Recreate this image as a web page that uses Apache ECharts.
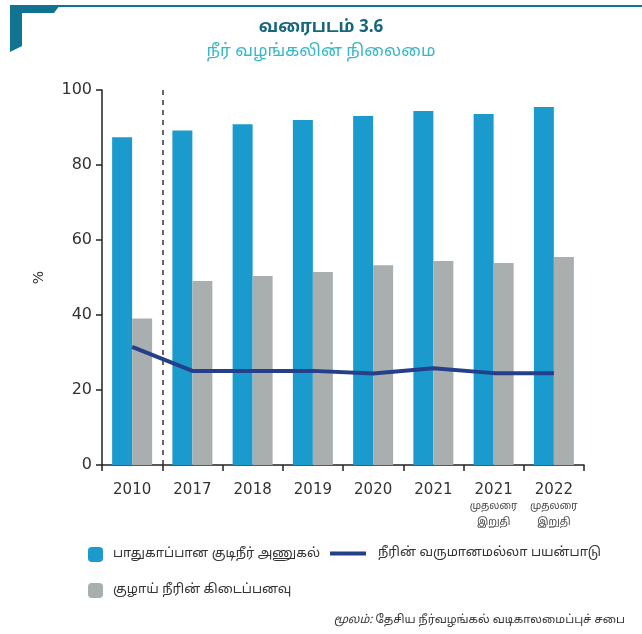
<!DOCTYPE html>
<html>
<head>
<meta charset="utf-8">
<script src="https://cdn.jsdelivr.net/npm/echarts@6/dist/echarts.min.js"></script>
<style>
  html, body { margin: 0; padding: 0; background: #fff; }
  #chart { width: 642px; height: 634px; }
</style>
</head>
<body>
<div id="chart"></div>
<script>
// chart data
const years = ['2010', '2017', '2018', '2019', '2020', '2021', '2021p', '2022p'];
const safeWater = [87.4, 89.2, 90.9, 92.0, 93.1, 94.4, 93.6, 95.5];
const pipeWater = [39.1, 49.1, 50.4, 51.5, 53.3, 54.4, 53.9, 55.5];
const nonRevenue = [31.5, 25.1, 25.1, 25.1, 24.4, 25.8, 24.5, 24.5];
const yTicks = [0, 20, 40, 60, 80, 100];
const breakAfter = 1; // dashed divider after the first category (2010)

const names = ['பாதுகாப்பான குடிநீர் அணுகல்', 'குழாய் நீரின் கிடைப்பனவு', 'நீரின் வருமானமல்லா பயன்பாடு'];
const tamilFont = '"Noto Sans Tamil", "Lohit Tamil", "Noto Sans", sans-serif';
const numFont = '"DejaVu Sans", "Noto Sans", sans-serif';

const chart = echarts.init(document.getElementById('chart'));

const option = {
    backgroundColor: '#fff',
    animation: false,
    title: [
        {
            text: 'வரைபடம் 3.6',
            left: 'center', top: 15,
            textStyle: { fontFamily: tamilFont, fontSize: 17, fontWeight: 'bold', color: '#17667c' }
        },
        {
            text: 'நீர் வழங்கலின் நிலைமை',
            left: 'center', top: 39,
            textStyle: { fontFamily: tamilFont, fontSize: 17, fontWeight: 'normal', color: '#3ab7c9' }
        }
    ],
    graphic: [
        // top rule and corner bracket
        { type: 'rect', shape: { x: 50, y: 5, width: 592, height: 2 }, style: { fill: '#0f7391' } },
        { type: 'polygon', shape: { points: [[10, 5], [60, 5], [54, 13], [22, 13], [22, 46], [10, 52]] }, style: { fill: '#0f7391' } },
        {
            type: 'text', right: 17, top: 615,
            style: {
                text: '{i|மூலம்:} தேசிய நீர்வழங்கல் வடிகாலமைப்புச் சபை',
                font: '11.5px ' + tamilFont, fill: '#333',
                rich: { i: { fontStyle: 'italic', fontFamily: tamilFont, fontSize: 11.5 } }
            }
        }
    ],
    legend: [
        {
            data: [names[0]], left: 88, top: 547, padding: 0, itemWidth: 15, itemHeight: 15,
            textStyle: { fontFamily: tamilFont, fontSize: 13, color: '#333', padding: [0, 0, 0, 5] }
        },
        {
            data: [names[1]], left: 88, top: 583, padding: 0, itemWidth: 15, itemHeight: 15,
            textStyle: { fontFamily: tamilFont, fontSize: 13, color: '#333', padding: [0, 0, 0, 5] }
        },
        {
            data: [{ name: names[2], icon: 'rect' }], left: 330, top: 547, padding: 0, itemWidth: 36, itemHeight: 4,
            textStyle: { fontFamily: tamilFont, fontSize: 13, color: '#333', padding: [0, 0, 0, 7] }
        }
    ],
    grid: { left: 102, right: 58, top: 90, bottom: 169 },
    xAxis: [
        {
            type: 'category',
            data: years,
            axisLine: { lineStyle: { color: '#222', width: 1.5 } },
            axisTick: { show: true, interval: 0, length: 6, lineStyle: { color: '#222', width: 1.5 } },
            axisLabel: {
                interval: 0,
                margin: 17,
                formatter: (v) => v.endsWith('p')
                    ? v.slice(0, 4) + '\n{s|முதலரை}\n{s|இறுதி}'
                    : v,
                fontFamily: numFont, fontSize: 15, color: '#333', lineHeight: 17,
                rich: { s: { fontFamily: tamilFont, fontSize: 10, color: '#444', lineHeight: 16 } }
            }
        },
        {
            // hidden helper axis so the divider sits on a category boundary
            type: 'value', min: 0, max: years.length, show: false
        }
    ],
    yAxis: {
        type: 'value',
        min: yTicks[0], max: yTicks[yTicks.length - 1], interval: 20,
        name: '%',
        nameLocation: 'middle', nameGap: 56, nameRotate: 90,
        nameTextStyle: { fontFamily: numFont, fontSize: 14, color: '#333' },
        axisLine: { show: true, lineStyle: { color: '#222', width: 1.5 } },
        axisTick: { show: true, length: 6, lineStyle: { color: '#222', width: 1.5 } },
        splitLine: { show: false },
        axisLabel: { margin: 10, fontFamily: numFont, fontSize: 16, color: '#333' }
    },
    series: [
        {
            name: names[0], type: 'bar', data: safeWater,
            barWidth: 20, barGap: '0%',
            itemStyle: { color: '#1b9bcd' }
        },
        {
            name: names[1], type: 'bar', data: pipeWater,
            barWidth: 20,
            itemStyle: { color: '#a9aeae' }
        },
        {
            name: names[2], type: 'line', data: nonRevenue,
            symbol: 'none',
            lineStyle: { color: '#253f8a', width: 4 },
            itemStyle: { color: '#253f8a' },
            z: 5
        },
        {
            name: 'divider', type: 'scatter', xAxisIndex: 1, data: [],
            markLine: {
                silent: true, symbol: 'none',
                label: { show: false },
                lineStyle: { color: '#333', width: 1.5, type: [5, 5] },
                data: [{ xAxis: breakAfter }]
            }
        }
    ]
};

chart.setOption(option);
</script>
</body>
</html>
